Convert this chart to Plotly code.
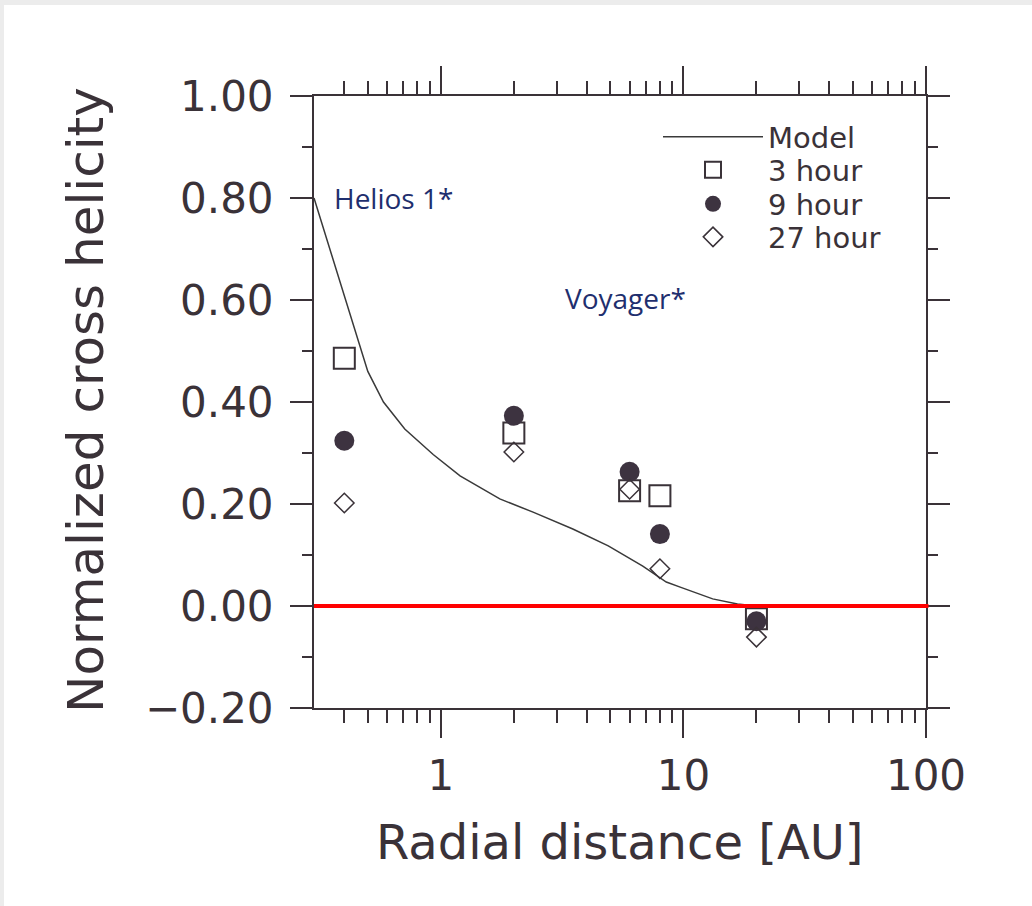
import plotly.graph_objects as go
import numpy as np

# ---- data ----
model_x = [0.3, 0.5, 0.58, 0.71, 0.93, 1.2, 1.75, 2.4, 3.5, 4.9, 6.8, 8.5, 9.7, 13.2, 16.7, 20]
model_y = [0.80, 0.46, 0.40, 0.347, 0.297, 0.255, 0.21, 0.184, 0.151, 0.118, 0.078, 0.047, 0.037, 0.014, 0.004, 0.0]

obs_x = [0.4, 2.0, 6.0, 8.0, 20.0]
h3 = [0.486, 0.339, 0.226, 0.216, -0.025]
h9 = [0.324, 0.373, 0.263, 0.141, -0.03]
h27 = [0.202, 0.302, 0.229, 0.073, -0.061]

y_ticks = [-0.2, 0.0, 0.2, 0.4, 0.6, 0.8, 1.0]
y_minor = [-0.1, 0.1, 0.3, 0.5, 0.7, 0.9]
x_ticks = [1, 10, 100]
x_tick_text = ["1", "10", "100"]
x_minor = [0.4, 0.5, 0.6, 0.7, 0.8, 0.9, 2, 3, 4, 5, 6, 7, 8, 9,
           20, 30, 40, 50, 60, 70, 80, 90]

INK = "#3a3238"
FONT = "DejaVu Sans"

fig = go.Figure()
fig.add_trace(go.Scatter(x=model_x, y=model_y, mode="lines", name="Model",
                         legend="legend",
                         line=dict(color="#3a3a3a", width=1.5)))
fig.add_trace(go.Scatter(x=obs_x, y=h3, mode="markers", name="3 hour",
                         legend="legend2",
                         marker=dict(symbol="square-open", size=21,
                                     color=INK, line=dict(width=2, color=INK))))
fig.add_trace(go.Scatter(x=obs_x, y=h9, mode="markers", name="9 hour",
                         legend="legend3",
                         marker=dict(symbol="circle", size=20, color="#3d3340",
                                     line=dict(width=0))))
fig.add_trace(go.Scatter(x=obs_x, y=h27, mode="markers", name="27 hour",
                         legend="legend4",
                         marker=dict(symbol="diamond-open", size=15,
                                     color=INK, line=dict(width=1.5, color=INK))))

# zero reference line
fig.add_shape(type="line", xref="paper", yref="y", x0=0, x1=1.004, y0=0, y1=0,
              line=dict(color="#ff0000", width=4), layer="above")

# light frame of the screenshot
L, T, W, H = 314, 96, 612, 612
def px(xp):
    return (xp - L) / W
def py(yp):
    return (T + H - yp) / H
fig.add_shape(type="rect", xref="paper", yref="paper", x0=px(0), x1=px(1032),
              y0=py(5), y1=py(0), fillcolor="#ececec", line=dict(width=0), layer="below")
fig.add_shape(type="rect", xref="paper", yref="paper", x0=px(0), x1=px(4),
              y0=py(906), y1=py(0), fillcolor="#ececec", line=dict(width=0), layer="below")

fig.add_annotation(text="Helios 1*", xref="x", yref="y", x=np.log10(0.357), y=0.80,
                   xanchor="left", yanchor="middle", showarrow=False,
                   font=dict(family="Open Sans", size=28, color="#1f2f6e"))
fig.add_annotation(text="Voyager*", xref="x", yref="y", x=np.log10(3.2), y=0.603,
                   xanchor="left", yanchor="middle", showarrow=False,
                   font=dict(family="Open Sans", size=28, color="#1f2f6e"))

# axis titles
fig.add_annotation(text="Normalized cross helicity", xref="paper", yref="paper",
                   x=px(86), y=py(400), textangle=-90, showarrow=False,
                   xanchor="center", yanchor="middle",
                   font=dict(family=FONT, size=50, color=INK))
fig.add_annotation(text="Radial distance [AU]", xref="paper", yref="paper",
                   x=0.5, y=py(842), showarrow=False,
                   xanchor="center", yanchor="middle",
                   font=dict(family=FONT, size=48, color=INK))

fig.update_xaxes(type="log", range=[np.log10(0.3), 2], tickmode="array",
                 tickvals=x_ticks, ticktext=x_tick_text,
                 ticks="outside", ticklen=28, tickwidth=2, tickcolor=INK,
                 showline=True, linecolor=INK, linewidth=2, mirror="ticks",
                 showgrid=False, zeroline=False, ticklabelstandoff=2,
                 tickfont=dict(family=FONT, size=42, color=INK),
                 minor=dict(tickmode="array", tickvals=x_minor, ticks="outside",
                            ticklen=13, tickwidth=1.5, tickcolor=INK, showgrid=False))
fig.update_yaxes(range=[-0.2, 1.0], tickmode="array", tickvals=y_ticks,
                 tickformat=".2f",
                 ticks="outside", ticklen=22, tickwidth=2, tickcolor=INK,
                 showline=True, linecolor=INK, linewidth=2, mirror="ticks",
                 showgrid=False, zeroline=False, ticklabelstandoff=8,
                 tickfont=dict(family=FONT, size=42, color=INK),
                 minor=dict(tickmode="array", tickvals=y_minor, ticks="outside",
                            ticklen=10, tickwidth=1.5, tickcolor=INK, showgrid=False))

leg_common = dict(x=px(658), xanchor="left", yanchor="middle",
                  bgcolor="rgba(0,0,0,0)", itemwidth=100, tracegroupgap=0,
                  font=dict(family=FONT, size=29, color=INK))
fig.update_layout(
    width=1032, height=906,
    margin=dict(l=L, r=1032 - L - W, t=T, b=906 - T - H, autoexpand=False),
    paper_bgcolor="white", plot_bgcolor="white",
    showlegend=True,
    legend=dict(y=py(137), **leg_common),
    legend2=dict(y=py(170), **leg_common),
    legend3=dict(y=py(204), **leg_common),
    legend4=dict(y=py(237), **leg_common),
)

fig.write_html("out.html")
